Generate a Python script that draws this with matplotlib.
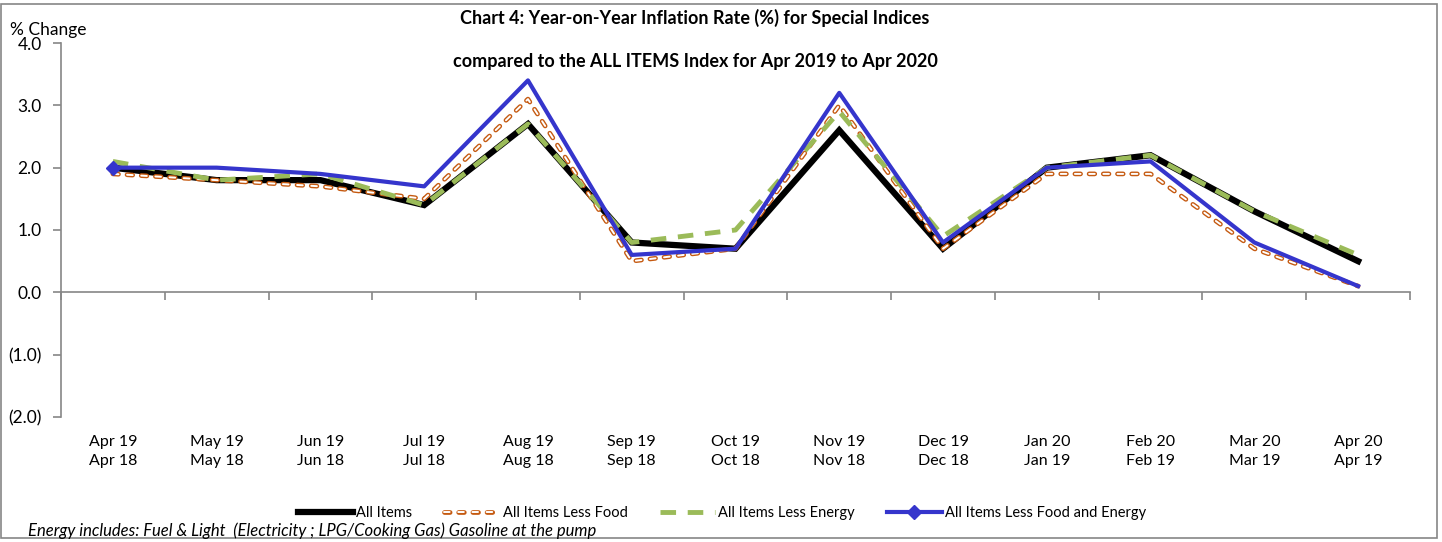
import matplotlib
matplotlib.use("Agg")
import matplotlib.pyplot as plt
import matplotlib.patheffects as pe
from matplotlib.patches import Rectangle
from matplotlib.ticker import FuncFormatter

## DATA
months_cur = ["Apr 19", "May 19", "Jun 19", "Jul 19", "Aug 19", "Sep 19", "Oct 19",
              "Nov 19", "Dec 19", "Jan 20", "Feb 20", "Mar 20", "Apr 20"]
months_prev = ["Apr 18", "May 18", "Jun 18", "Jul 18", "Aug 18", "Sep 18", "Oct 18",
               "Nov 18", "Dec 18", "Jan 19", "Feb 19", "Mar 19", "Apr 19"]
all_items = [2.0, 1.8, 1.8, 1.4, 2.7, 0.8, 0.7, 2.6, 0.7, 2.0, 2.2, 1.3, 0.5]
less_food = [1.9, 1.8, 1.7, 1.5, 3.1, 0.5, 0.7, 3.0, 0.7, 1.9, 1.9, 0.7, 0.1]
less_energy = [2.1, 1.8, 1.9, 1.4, 2.7, 0.8, 1.0, 2.9, 0.9, 2.0, 2.2, 1.3, 0.6]
less_food_energy = [2.0, 2.0, 1.9, 1.7, 3.4, 0.6, 0.7, 3.2, 0.8, 2.0, 2.1, 0.8, 0.1]

plt.rcParams['font.family'] = ['Lato', 'DejaVu Sans']

fig = plt.figure(figsize=[14.42, 5.42], dpi=100)
ax = fig.add_axes([61/1442, 125/542, 1349/1442, 374/542])

x = list(range(len(months_cur)))

ax.plot(x, all_items, color='black', lw=4.5, solid_joinstyle='miter', label='All Items', zorder=2)
# orange double dashed line: white core with orange outline
ax.plot(x, less_food, color='white', lw=1.4, dashes=(2.9, 4.4), dash_capstyle='round',
        path_effects=[pe.Stroke(linewidth=3.4, foreground='#c55a11'), pe.Normal()],
        label='All Items Less Food', zorder=3)
ax.plot(x, less_energy, color='#9bbb59', lw=3.5, dashes=(3.2, 2.4), label='All Items Less Energy', zorder=4)
ax.plot(x, less_food_energy, color='#3535cc', lw=3, marker='D', markersize=7, markevery=[0],
        label='All Items Less Food and Energy', zorder=5)

ax.set_xlim(-0.5, 12.5)
ax.set_ylim(-2, 4)
ax.set_yticks([-2, -1, 0, 1, 2, 3, 4])
ax.yaxis.set_major_formatter(FuncFormatter(lambda v, p: "({:.1f})".format(-v) if v < 0 else "{:.1f}".format(v)))

for s in ['top', 'right']:
    ax.spines[s].set_visible(False)
ax.spines['bottom'].set_position(('data', 0))
ax.spines['left'].set_color('#868686')
ax.spines['bottom'].set_color('#868686')
ax.spines['left'].set_linewidth(1.2)
ax.spines['bottom'].set_linewidth(1.2)

ax.set_xticks([i - 0.5 for i in range(14)])
ax.set_xticklabels([])
ax.tick_params(axis='x', direction='out', length=6, color='#868686', width=1.2)
ax.tick_params(axis='y', direction='out', length=6, color='#868686', width=1.2,
               labelsize=12.5, pad=8)

for i in x:
    ax.annotate(months_cur[i] + "\n" + months_prev[i], xy=(i, 0), xycoords=('data', 'axes fraction'),
                xytext=(0, -13), textcoords='offset points', ha='center', va='top',
                fontsize=11.5, linespacing=1.45)

fig.text(10/1442, 1 - 30/542, "% Change", fontsize=12.5, va='center', ha='left')
fig.text(695/1442, 1 - 18/542, "Chart 4: Year-on-Year Inflation Rate (%) for Special Indices",
         fontsize=13, fontweight='bold', ha='center', va='center')
fig.text(695/1442, 1 - 62/542, "compared to the ALL ITEMS Index for Apr 2019 to Apr 2020",
         fontsize=13, fontweight='bold', ha='center', va='center')

fig.legend(loc='center', bbox_to_anchor=(722/1442, 1 - 513/542), ncol=4, frameon=False,
           fontsize=10.5, handlelength=3.8, handletextpad=0.2, columnspacing=2.2)

fig.text(28/1442, 1 - 531/542, "Energy includes: Fuel & Light  (Electricity ; LPG/Cooking Gas) Gasoline at the pump",
         fontsize=12, style='italic', ha='left', va='center')

fig.patches.append(Rectangle((0.5/1442, 4/542), 1436/1442, 534/542, transform=fig.transFigure,
                             fill=False, edgecolor='#868686', lw=1.2))

plt.savefig("out.png", dpi=100)
